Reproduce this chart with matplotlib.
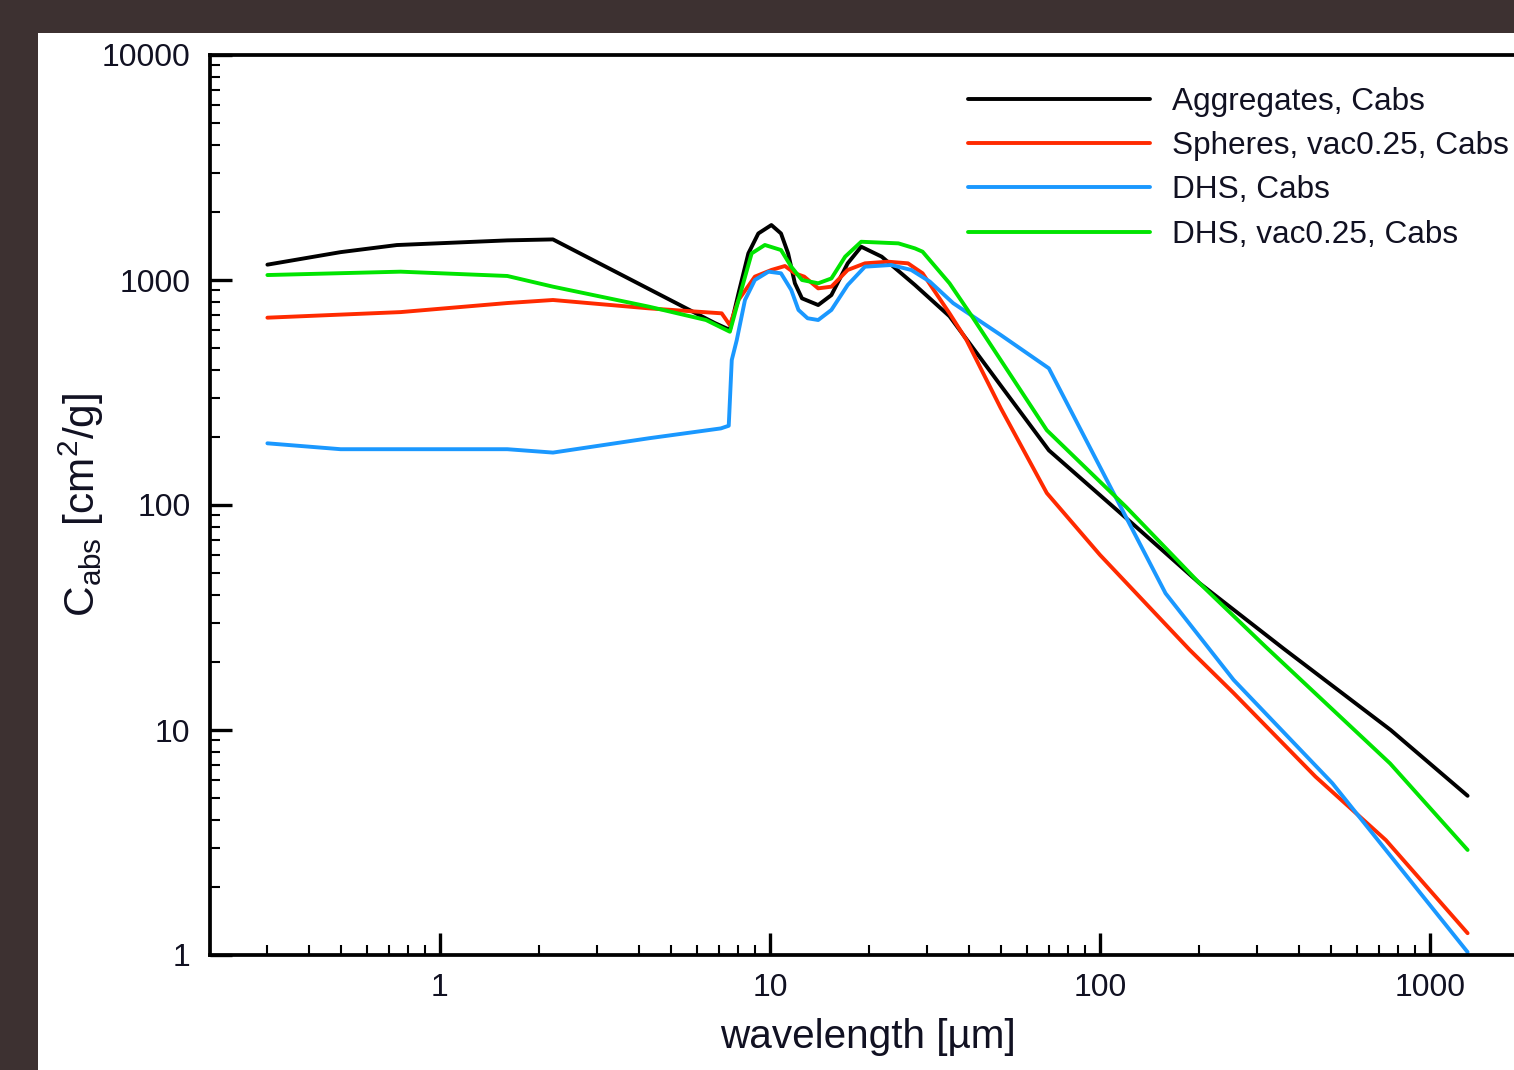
import matplotlib
matplotlib.use("Agg")
import matplotlib.pyplot as plt
import matplotlib.ticker as mticker
from matplotlib.patches import Rectangle
import numpy as np

plt.rcParams['font.family'] = ['Liberation Sans', 'DejaVu Sans']
plt.rcParams['mathtext.fontset'] = 'custom'
plt.rcParams['mathtext.rm'] = 'Liberation Sans'
plt.rcParams['mathtext.it'] = 'Liberation Sans'

# ---- data ----
agg_wl = [0.3, 0.5, 0.74, 1.6, 2.2, 6.8, 7.56, 8.03, 8.6, 9.22, 10.1, 10.8, 11.35,
          11.9, 12.5, 14.0, 15.35, 17.2, 18.9, 21.8, 27.5, 35.0, 50.0, 70.0, 125.0,
          200.0, 360.0, 760.0, 1300.0]
agg_c = [1170, 1330, 1430, 1500, 1515, 644, 600, 873, 1313, 1610, 1755, 1610, 1313,
         967, 829, 774, 857, 1186, 1406, 1270, 950, 690, 340, 175, 83,
         45, 23, 10, 5.1]

sph_wl = [0.3, 0.76, 1.6, 2.2, 4.3, 7.14, 7.56, 8.03, 9.0, 10.1, 11.1, 11.9, 12.7,
          14.0, 15.35, 17.2, 19.4, 22.8, 26.2, 29.0, 35.0, 39.4, 50.0, 69.0, 100.0,
          187.0, 254.0, 450.0, 735.0, 1300.0]
sph_c = [680, 720, 790, 815, 748, 711, 630, 815, 1035, 1108, 1154, 1071, 1035,
         918, 934, 1108, 1186, 1206, 1186, 1071, 711, 541, 270, 113, 60,
         22.7, 14.6, 6.2, 3.24, 1.25]

dhs_wl = [0.3, 0.5, 1.6, 2.2, 4.3, 7.1, 7.5, 7.66, 7.93, 8.4, 9.0, 9.9, 10.8, 11.6,
          12.2, 13.0, 14.0, 15.35, 17.2, 19.4, 23.3, 26.8, 30.5, 35.9, 50.0, 70.0,
          158.0, 254.0, 506.0, 1300.0]
dhs_c = [188, 177, 177, 171, 198, 219, 225, 441, 540, 815, 1000, 1089, 1071, 903,
         736, 676, 664, 736, 950, 1146, 1166, 1108, 984, 789, 570, 405,
         40.5, 16.7, 5.8, 1.03]

dhsv_wl = [0.3, 0.76, 1.6, 2.2, 4.3, 6.4, 7.56, 8.03, 8.8, 9.65, 10.8, 11.6, 12.5,
           14.0, 15.35, 16.9, 18.9, 24.5, 27.5, 29.0, 35.0, 41.0, 69.0, 120.0,
           200.0, 317.0, 757.0, 1300.0]
dhsv_c = [1052, 1089, 1042, 934, 761, 664, 589, 815, 1313, 1431, 1359, 1146, 1000,
          967, 1016, 1270, 1479, 1455, 1382, 1336, 967, 687, 215, 98,
          45, 23.5, 7.1, 2.93]

labels = ["Aggregates, Cabs", "Spheres, vac0.25, Cabs", "DHS, Cabs", "DHS, vac0.25, Cabs"]
colors = ["#000000", "#ff2a00", "#1a98ff", "#00e400"]

W, H = 1514, 1070
fig = plt.figure(figsize=(W / 100, H / 100), dpi=100)
fig.patch.set_facecolor("#3d3131")
fig.patches.append(Rectangle((38 / W, 0), 1 - 38 / W, (H - 33) / H,
                             transform=fig.transFigure, facecolor="white",
                             edgecolor="none", zorder=0))

ax_left = 210 / W
ax_bottom = 1 - 955 / H
ax_top = 1 - 55 / H
ax = fig.add_axes([ax_left, ax_bottom, 1 - ax_left, ax_top - ax_bottom])
ax.set_facecolor("white")
ax.set_zorder(1)

series = [(agg_wl, agg_c), (sph_wl, sph_c), (dhs_wl, dhs_c), (dhsv_wl, dhsv_c)]
for (wl, c), lab, col in zip(series, labels, colors):
    ax.plot(wl, c, color=col, lw=2.8, label=lab, solid_joinstyle='round',
            solid_capstyle='round')

ax.set_xscale('log')
ax.set_yscale('log')
ax.set_xlim(0.201, 1797)
ax.set_ylim(1, 10000)

for s in ['left', 'bottom', 'top']:
    ax.spines[s].set_linewidth(2.7)
ax.spines['right'].set_visible(False)

ax.xaxis.set_major_locator(mticker.FixedLocator([1, 10, 100, 1000]))
ax.yaxis.set_major_locator(mticker.FixedLocator([1, 10, 100, 1000, 10000]))
ax.xaxis.set_minor_locator(mticker.LogLocator(base=10, subs=np.arange(2, 10), numticks=20))
ax.yaxis.set_minor_locator(mticker.LogLocator(base=10, subs=np.arange(2, 10), numticks=20))
ax.xaxis.set_major_formatter(mticker.FixedFormatter(["1", "10", "100", "1000"]))
ax.yaxis.set_major_formatter(mticker.FixedFormatter(["1", "10", "100", "1000", "10000"]))
ax.xaxis.set_minor_formatter(mticker.NullFormatter())
ax.yaxis.set_minor_formatter(mticker.NullFormatter())

ax.tick_params(which='major', direction='in', length=16, width=2.4,
               labelsize=23, colors='black', labelcolor='#111122')
ax.tick_params(which='minor', direction='in', length=7.5, width=1.5)
ax.tick_params(axis='x', which='major', pad=13, top=False)
ax.tick_params(axis='y', which='major', pad=14, right=False)
ax.tick_params(which='minor', top=False, right=False)

ax.set_xlabel("wavelength [µm]", fontsize=29.2, color='#111122')
ax.xaxis.set_label_coords((868 - 210) / (W - 210), (955 - 1018) / 900)
ax.set_ylabel(r"C$_{\mathrm{abs}}$ [cm$^2$/g]", fontsize=30.5, color='#111122')
ax.yaxis.set_label_coords((106 - 210) / (W - 210), 0.5)

leg = ax.legend(loc='upper left', bbox_to_anchor=(968 / W, 1 - 87 / H),
                bbox_transform=fig.transFigure, frameon=False, fontsize=22.7,
                handlelength=5.78, handletextpad=0.7, labelspacing=0.45,
                borderpad=0, borderaxespad=0)
for t in leg.get_texts():
    t.set_color('#111122')
for l in leg.get_lines():
    l.set_linewidth(2.8)

fig.savefig("out.png", dpi=100, facecolor=fig.get_facecolor())
